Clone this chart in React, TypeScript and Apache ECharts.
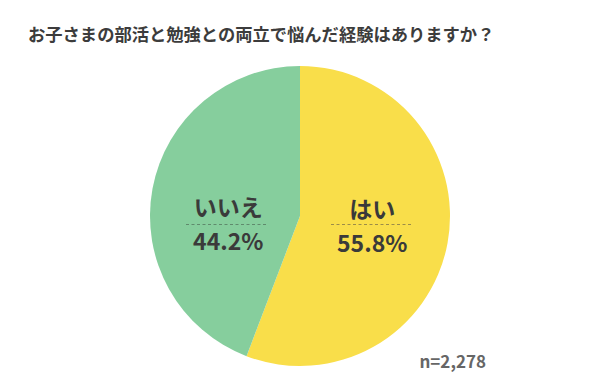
import React, { useEffect, useRef } from "react";
import * as echarts from "echarts";

const categories = ["はい", "いいえ"];
const percents = [55.8, 44.2];
const colors = ["#F9DE4A", "#86CE9D"];
const titleText = "お子さまの部活と勉強との両立で悩んだ経験はありますか？";
const sampleNote = "n=2,278";

export default function App() {
  const ref = useRef<HTMLDivElement>(null);
  useEffect(() => {
    if (!ref.current) return;
    const chart = echarts.init(ref.current, null, { renderer: "svg" });
    const font = "'Noto Sans CJK JP', 'Noto Sans', sans-serif";
    const labelPads = [
      [0, 9, 10, 0],
      [43, 0, 0, 10],
    ];
    chart.setOption({
      animation: false,
      backgroundColor: "#ffffff",
      title: {
        text: titleText,
        left: 23,
        top: 20,
        textStyle: { fontFamily: font, fontSize: 17.3, fontWeight: "bold", color: "#3c3c3c" },
      },
      graphic: [
        {
          type: "text",
          right: 114,
          top: 352,
          z: 100,
          style: { text: sampleNote, fontFamily: font, fontSize: 17, fontWeight: "bold", fill: "#666666" },
        },
        {
          type: "line",
          z: 100,
          shape: { x1: 186, y1: 224.5, x2: 268, y2: 224.5 },
          style: { stroke: "#5f8a6c", lineWidth: 1, lineDash: [3, 2.5] },
        },
        {
          type: "line",
          z: 100,
          shape: { x1: 331, y1: 224.5, x2: 413, y2: 224.5 },
          style: { stroke: "#9c8c48", lineWidth: 1, lineDash: [3, 2.5] },
        },
      ],
      series: [
        {
          type: "pie",
          center: ["50%", 216],
          radius: [0, 150],
          startAngle: 90,
          clockwise: true,
          avoidLabelOverlap: false,
          emphasis: { disabled: true },
          itemStyle: { borderWidth: 0 },
          label: {
            show: true,
            position: "inside",
            fontFamily: font,
            formatter: (p: any) => `{n|${p.name}}\n{v|${p.value.toFixed(1)}%}`,
            rich: {
              n: { fontFamily: font, fontSize: 23, fontWeight: "bold", color: "#3a3a3a", lineHeight: 34, align: "center" },
              v: { fontFamily: font, fontSize: 23, fontWeight: "bold", color: "#3a3a3a", lineHeight: 34, align: "center" },
            },
          },
          data: categories.map((c, i) => ({
            name: c,
            value: percents[i],
            itemStyle: { color: colors[i] },
            label: { padding: labelPads[i] },
          })),
        },
      ],
    });
    return () => chart.dispose();
  }, []);
  return <div ref={ref} style={{ position: "absolute", left: 0, top: 0, width: 600, height: 390 }} />;
}
